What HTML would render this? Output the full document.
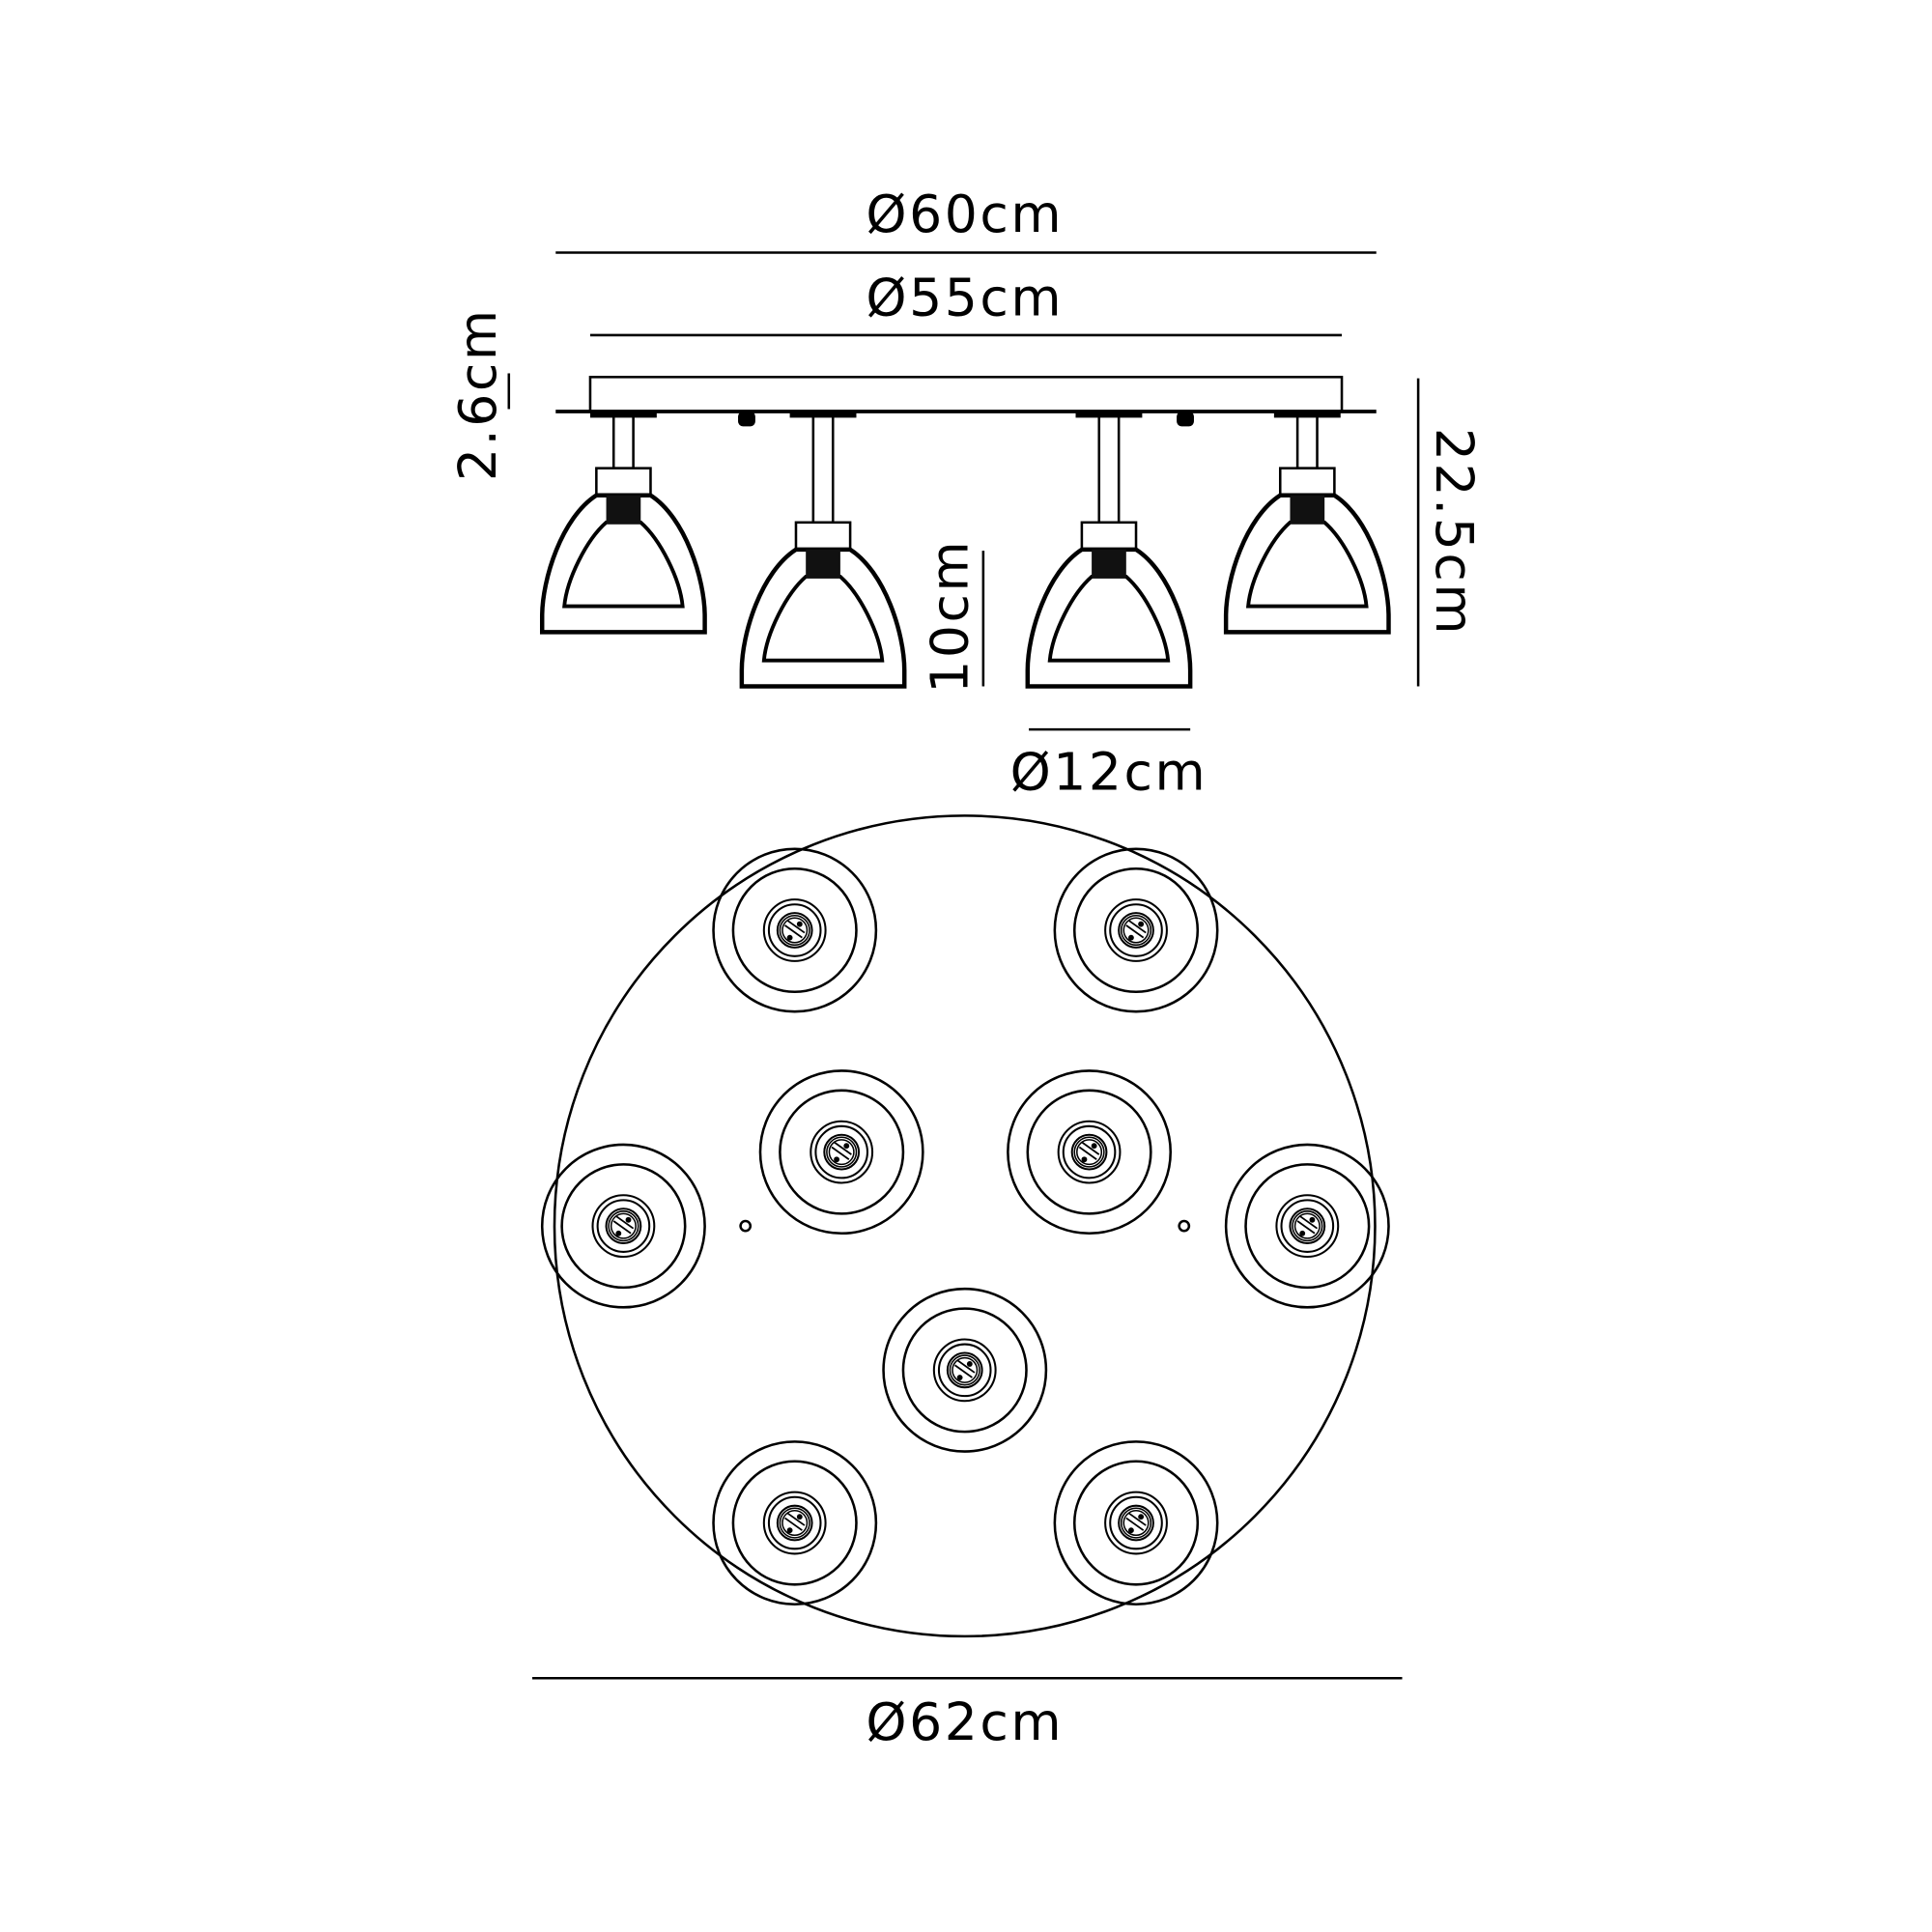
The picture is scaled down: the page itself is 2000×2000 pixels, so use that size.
<!DOCTYPE html>
<html><head><meta charset="utf-8"><style>html,body{margin:0;padding:0;background:#fff}svg{display:block}</style></head>
<body>
<svg width="2000" height="2000" viewBox="0 0 1568 1568" xmlns="http://www.w3.org/2000/svg">
<defs>
<g id="spot" fill="none" stroke="#000">
<circle r="66" stroke-width="2"/>
<circle r="50" stroke-width="2"/>
<circle r="25" stroke-width="1.6"/>
<circle r="21" stroke-width="1.6"/>
<circle r="14" stroke-width="1.6"/>
<circle r="12" stroke-width="1.2"/>
<circle r="10" stroke-width="1.2"/>
<path d="M-8,-4 L6,6 M-6,-8 L8,2" stroke-width="1.4"/>
<circle cx="4" cy="-5" r="1.8" fill="#000"/>
<circle cx="-4" cy="6" r="1.8" fill="#000"/>
</g>
<g id="pend" stroke="#000" fill="none">
<rect x="-22" y="0" width="44" height="22" stroke-width="2" fill="#fff"/>
<path d="M-22,22 C-50,40 -66,90 -66,120 L-66,133 L66,133 L66,120 C66,90 50,40 22,22 Z" stroke-width="3.5" fill="#fff"/>
<path d="M-14,44 C-30,58 -46,90 -48,112 L48,112 C46,90 30,58 14,44 Z" stroke-width="3" fill="#fff"/>
<rect x="-14" y="22" width="28" height="23" fill="#111" stroke="none"/>
</g>
</defs>
<g font-family="'DejaVu Sans','Liberation Sans',sans-serif" font-size="42" fill="#000" text-anchor="middle" letter-spacing="2">
<text x="783" y="188">Ø60cm</text>
<text x="783" y="256">Ø55cm</text>
<text x="900" y="641">Ø12cm</text>
<text x="783" y="1412">Ø62cm</text>
<text transform="translate(402,320) rotate(-90)">2.6cm</text>
<text transform="translate(785,500) rotate(-90)">10cm</text>
<text transform="translate(1166,432) rotate(90)">22.5cm</text>
</g>
<g stroke="#000" stroke-width="2" fill="none">
<line x1="451" y1="205" x2="1117" y2="205"/>
<line x1="479" y1="272" x2="1089" y2="272"/>
<line x1="413" y1="303" x2="413" y2="332"/>
<line x1="1151" y1="307" x2="1151" y2="557"/>
<line x1="798" y1="447" x2="798" y2="557"/>
<line x1="835" y1="592" x2="966" y2="592"/>
<line x1="432" y1="1362" x2="1138" y2="1362"/>
<rect x="479" y="306" width="610" height="28"/>
<line x1="451" y1="334" x2="1117" y2="334" stroke-width="3"/>
</g>
<g fill="#000">
<rect x="479" y="334" width="54" height="5"/>
<rect x="641" y="334" width="54" height="5"/>
<rect x="873" y="334" width="54" height="5"/>
<rect x="1034" y="334" width="54" height="5"/>
<rect x="599" y="334" width="14" height="12" rx="4"/>
<rect x="955" y="334" width="14" height="12" rx="4"/>
</g>
<g stroke="#000" stroke-width="2" fill="#fff">
<rect x="498" y="338" width="16" height="42"/>
<rect x="660" y="338" width="16" height="86"/>
<rect x="892" y="338" width="16" height="86"/>
<rect x="1053" y="338" width="16" height="42"/>
</g>
<use href="#pend" x="506" y="380"/>
<use href="#pend" x="668" y="424"/>
<use href="#pend" x="900" y="424"/>
<use href="#pend" x="1061" y="380"/>
<circle cx="783" cy="995" r="333" fill="none" stroke="#000" stroke-width="2"/>
<circle cx="605" cy="995" r="4" fill="none" stroke="#000" stroke-width="2"/>
<circle cx="961" cy="995" r="4" fill="none" stroke="#000" stroke-width="2"/>
<use href="#spot" x="645" y="755"/>
<use href="#spot" x="922" y="755"/>
<use href="#spot" x="683" y="935"/>
<use href="#spot" x="884" y="935"/>
<use href="#spot" x="506" y="995"/>
<use href="#spot" x="1061" y="995"/>
<use href="#spot" x="783" y="1112"/>
<use href="#spot" x="645" y="1236"/>
<use href="#spot" x="922" y="1236"/>
</svg>
</body></html>
